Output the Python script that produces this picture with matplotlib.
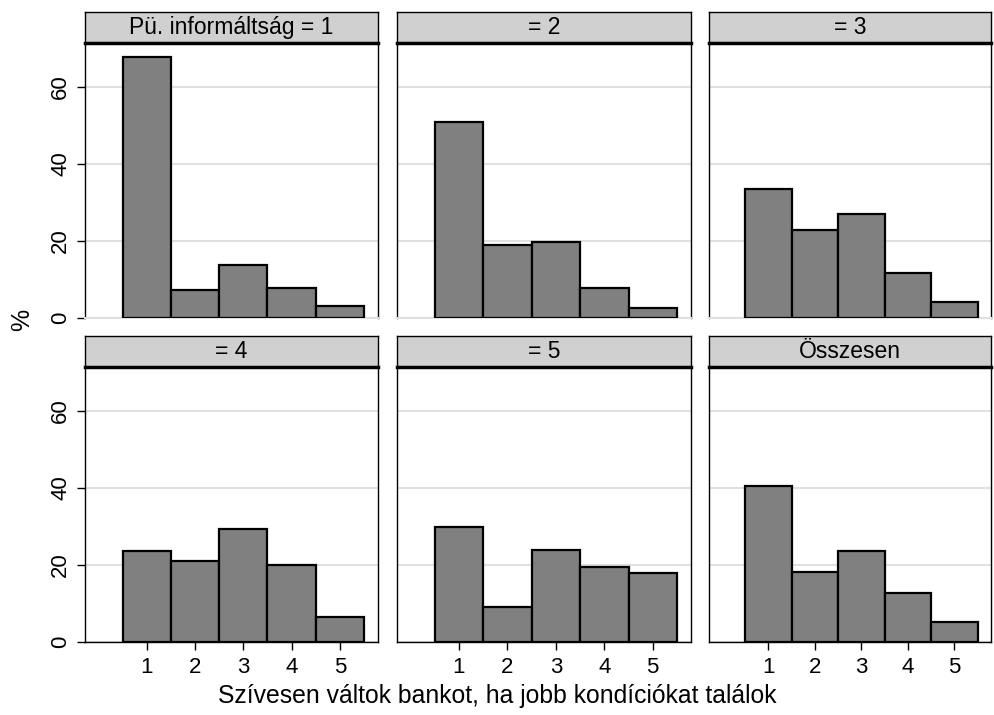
import matplotlib
matplotlib.use("Agg")
import matplotlib.pyplot as plt

plt.rcParams["font.family"] = ["Liberation Sans", "DejaVu Sans"]

# Share of answers (%) per response category, by informedness level
categories = [1, 2, 3, 4, 5]
panel_titles = ["Pü. informáltság = 1", "= 2", "= 3", "= 4", "= 5", "Összesen"]
level_1 = [67.8, 7.3, 13.7, 7.9, 3.2]
level_2 = [50.8, 19.0, 19.8, 7.7, 2.5]
level_3 = [33.5, 22.9, 27.1, 11.8, 4.2]
level_4 = [23.5, 21.0, 29.4, 20.0, 6.5]
level_5 = [29.9, 9.0, 24.0, 19.4, 17.9]
total = [40.6, 18.1, 23.6, 12.6, 5.2]
y_ticks = [0, 20, 40, 60]

series = [level_1, level_2, level_3, level_4, level_5, total]

W, H = 994, 715
fig = plt.figure(figsize=(W / 100, H / 100), dpi=100)


def px_axes(left, top, right, bottom):
    return fig.add_axes([left / W, 1 - bottom / H, (right - left) / W, (bottom - top) / H])


cols = [(85, 378), (397, 691), (709, 991)]
rows = [(12, 43, 318), (336, 367, 642)]

for i, values in enumerate(series):
    r, c = divmod(i, 3)
    left, right = cols[c]
    head_top, plot_top, plot_bottom = rows[r]

    ax = px_axes(left, plot_top, right, plot_bottom)
    ax.bar(categories, values, width=1, color="#808080", edgecolor="black",
           linewidth=1.6, zorder=3)
    ax.set_xlim(-0.28, 5.79)
    ax.set_ylim(0, 71.4)
    ax.set_yticks(y_ticks)
    ax.yaxis.grid(True, color="#e0e0e0", linewidth=1.5)
    ax.set_axisbelow(True)

    ax.spines["top"].set_visible(False)
    for side in ("left", "right"):
        ax.spines[side].set_color("black")
        ax.spines[side].set_linewidth(1)

    if r == 0:
        ax.spines["bottom"].set_color("#e0e0e0")
        ax.spines["bottom"].set_linewidth(1.5)
        ax.tick_params(axis="x", bottom=False, labelbottom=False)
    else:
        ax.spines["bottom"].set_color("black")
        ax.spines["bottom"].set_linewidth(1)
        ax.set_xticks(categories)
        ax.tick_params(axis="x", length=6, width=1, pad=5, labelsize=16)

    if c == 0:
        ax.tick_params(axis="y", length=6, width=1, pad=4, labelsize=16)
        for lab in ax.get_yticklabels():
            lab.set_rotation(90)
            lab.set_va("center")
    else:
        ax.tick_params(axis="y", left=False, labelleft=False)

    # strip header above each panel
    hx = px_axes(left, head_top, right, plot_top)
    hx.set_facecolor("#d0d0d0")
    hx.set_xticks([])
    hx.set_yticks([])
    for side in ("top", "left", "right"):
        hx.spines[side].set_linewidth(1)
    hx.spines["bottom"].set_linewidth(2.5)
    hx.text(0.5, 0.5, panel_titles[i], ha="center", va="center", fontsize=16.5,
            transform=hx.transAxes)

fig.text(497 / W, 1 - 696 / H, "Szívesen váltok bankot, ha jobb kondíciókat találok",
         ha="center", va="center", fontsize=17.8)
fig.text(22 / W, 1 - 320 / H, "%", ha="center", va="center", fontsize=18, rotation=90)

fig.savefig("out.png", dpi=100)
